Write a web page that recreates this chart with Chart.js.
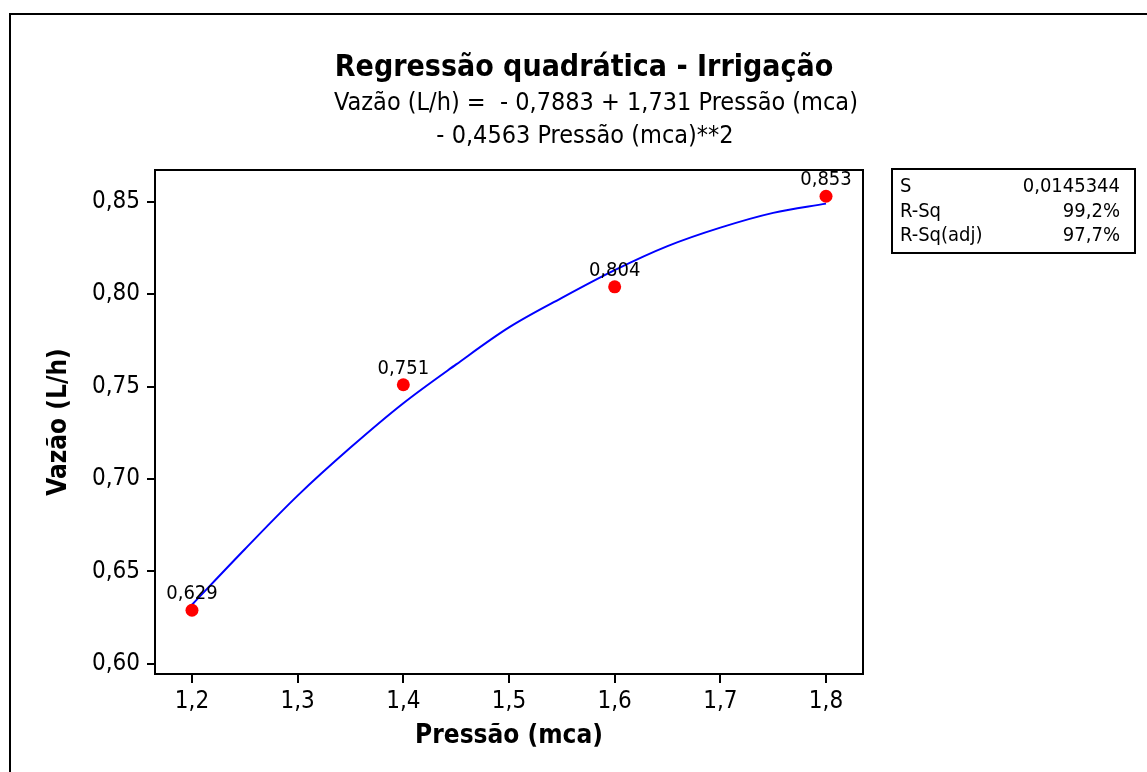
<!DOCTYPE html>
<html>
<head>
<meta charset="utf-8">
<script src="https://cdn.jsdelivr.net/npm/chart.js@4.4.1/dist/chart.umd.min.js"></script>
<style>
  html, body { margin: 0; padding: 0; background: #fff; }
  #wrap { width: 1147px; height: 772px; }
</style>
</head>
<body>
<div id="wrap"><canvas id="grafico" width="1147" height="772"></canvas></div>
<script>
// observed points (Pressão x Vazão)
const pressao = [1.2, 1.4, 1.6, 1.8];
const vazao = [0.629, 0.751, 0.804, 0.853];

// fitted curve
const curvaX = [1.2, 1.25, 1.3, 1.35, 1.4, 1.45, 1.5, 1.55, 1.6, 1.65, 1.7, 1.75, 1.8];
const curvaY = [0.632, 0.662, 0.691, 0.717, 0.741, 0.762, 0.782, 0.798, 0.813, 0.826, 0.836, 0.844, 0.849];

// tick labels
const ticksX = [1.2, 1.3, 1.4, 1.5, 1.6, 1.7, 1.8];
const ticksY = [0.60, 0.65, 0.70, 0.75, 0.80, 0.85];

// stats box
const statNomes = ["S", "R-Sq", "R-Sq(adj)"];
const statValores = ["0,0145344", "99,2%", "97,7%"];

const titulo = "Regressão quadrática - Irrigação";
const subtitulo = ["Vazão (L/h) =  - 0,7883 + 1,731 Pressão (mca)", "- 0,4563 Pressão (mca)**2"];

const FONTE = '"DejaVu Sans Condensed", "DejaVu Sans", sans-serif';

function virgula(v, casas) {
    return v.toFixed(casas).replace(".", ",");
}

// draws frame, titles, labels and the stats box
const decoracao = {
    id: "decoracao",
    afterDraw(chart) {
        const ctx = chart.ctx;
        const area = chart.chartArea;
        ctx.save();
        ctx.strokeStyle = "#000";
        ctx.lineWidth = 2;
        // outer border (right and bottom cut by the picture)
        ctx.strokeRect(10, 14, 1400, 1000);
        // plot frame
        ctx.strokeRect(area.left, area.top, area.right - area.left, area.bottom - area.top);

        ctx.fillStyle = "#000";
        ctx.textAlign = "center";
        ctx.textBaseline = "middle";
        ctx.font = "bold 30px " + FONTE;
        ctx.fillText(titulo, 584, 68);
        ctx.font = "25px " + FONTE;
        ctx.fillText(subtitulo[0], 596, 103);
        ctx.fillText(subtitulo[1], 585, 136);

        // axis titles
        ctx.font = "bold 26px " + FONTE;
        ctx.fillText("Pressão (mca)", (area.left + area.right) / 2, 736);
        ctx.save();
        ctx.translate(59, (area.top + area.bottom) / 2);
        ctx.rotate(-Math.PI / 2);
        ctx.fillText("Vazão (L/h)", 0, 0);
        ctx.restore();

        // point labels
        ctx.font = "20px " + FONTE;
        ctx.textBaseline = "alphabetic";
        const pts = chart.getDatasetMeta(1).data;
        pts.forEach((p, i) => {
            ctx.fillText(virgula(vazao[i], 3), p.x, p.y - 11);
        });

        // stats box
        ctx.strokeRect(892, 169, 243, 84);
        ctx.font = "20px " + FONTE;
        ctx.textBaseline = "middle";
        statNomes.forEach((n, i) => {
            const y = 187 + i * 24.5;
            ctx.textAlign = "left";
            ctx.fillText(n, 900, y);
            ctx.textAlign = "right";
            ctx.fillText(statValores[i], 1120, y);
        });
        ctx.restore();
    }
};

const dadosCurva = curvaX.map((x, i) => ({x: x, y: curvaY[i]}));
const dadosPontos = pressao.map((x, i) => ({x: x, y: vazao[i]}));

new Chart(document.getElementById("grafico"), {
    type: "scatter",
    data: {
        datasets: [
            {
                label: "Ajuste",
                data: dadosCurva,
                showLine: true,
                borderColor: "#0000ff",
                borderWidth: 2,
                pointRadius: 0,
                cubicInterpolationMode: "monotone",
                fill: false,
                order: 2
            },
            {
                label: "Observado",
                data: dadosPontos,
                backgroundColor: "#ff0000",
                borderColor: "#ff0000",
                pointRadius: 6.5,
                borderWidth: 0,
                order: 1
            }
        ]
    },
    options: {
        responsive: false,
        animation: false,
        devicePixelRatio: 1,
        layout: { padding: { left: 0, top: 170, right: 284, bottom: 0 } },
        plugins: {
            legend: { display: false },
            tooltip: { enabled: false }
        },
        scales: {
            x: {
                type: "linear",
                min: 1.165,
                max: 1.835,
                afterBuildTicks: (s) => { s.ticks = ticksX.map(v => ({value: v})); },
                afterFit: (s) => { s.height = 98; },
                ticks: {
                    color: "#000",
                    font: { family: FONTE, size: 24 },
                    padding: 4,
                    maxRotation: 0,
                    callback: (v) => virgula(v, 1)
                },
                grid: { drawOnChartArea: false, drawTicks: true, tickLength: 9, color: "#000", lineWidth: 2 },
                border: { display: true, color: "#000", width: 2 }
            },
            y: {
                type: "linear",
                min: 0.5945,
                max: 0.8672,
                afterBuildTicks: (s) => { s.ticks = ticksY.map(v => ({value: v})); },
                afterFit: (s) => { s.width = 155; },
                ticks: {
                    color: "#000",
                    font: { family: FONTE, size: 24 },
                    padding: 7,
                    callback: (v) => virgula(v, 2)
                },
                grid: { drawOnChartArea: false, drawTicks: true, tickLength: 8, color: "#000", lineWidth: 2 },
                border: { display: true, color: "#000", width: 2 }
            }
        }
    },
    plugins: [decoracao]
});
</script>
</body>
</html>
